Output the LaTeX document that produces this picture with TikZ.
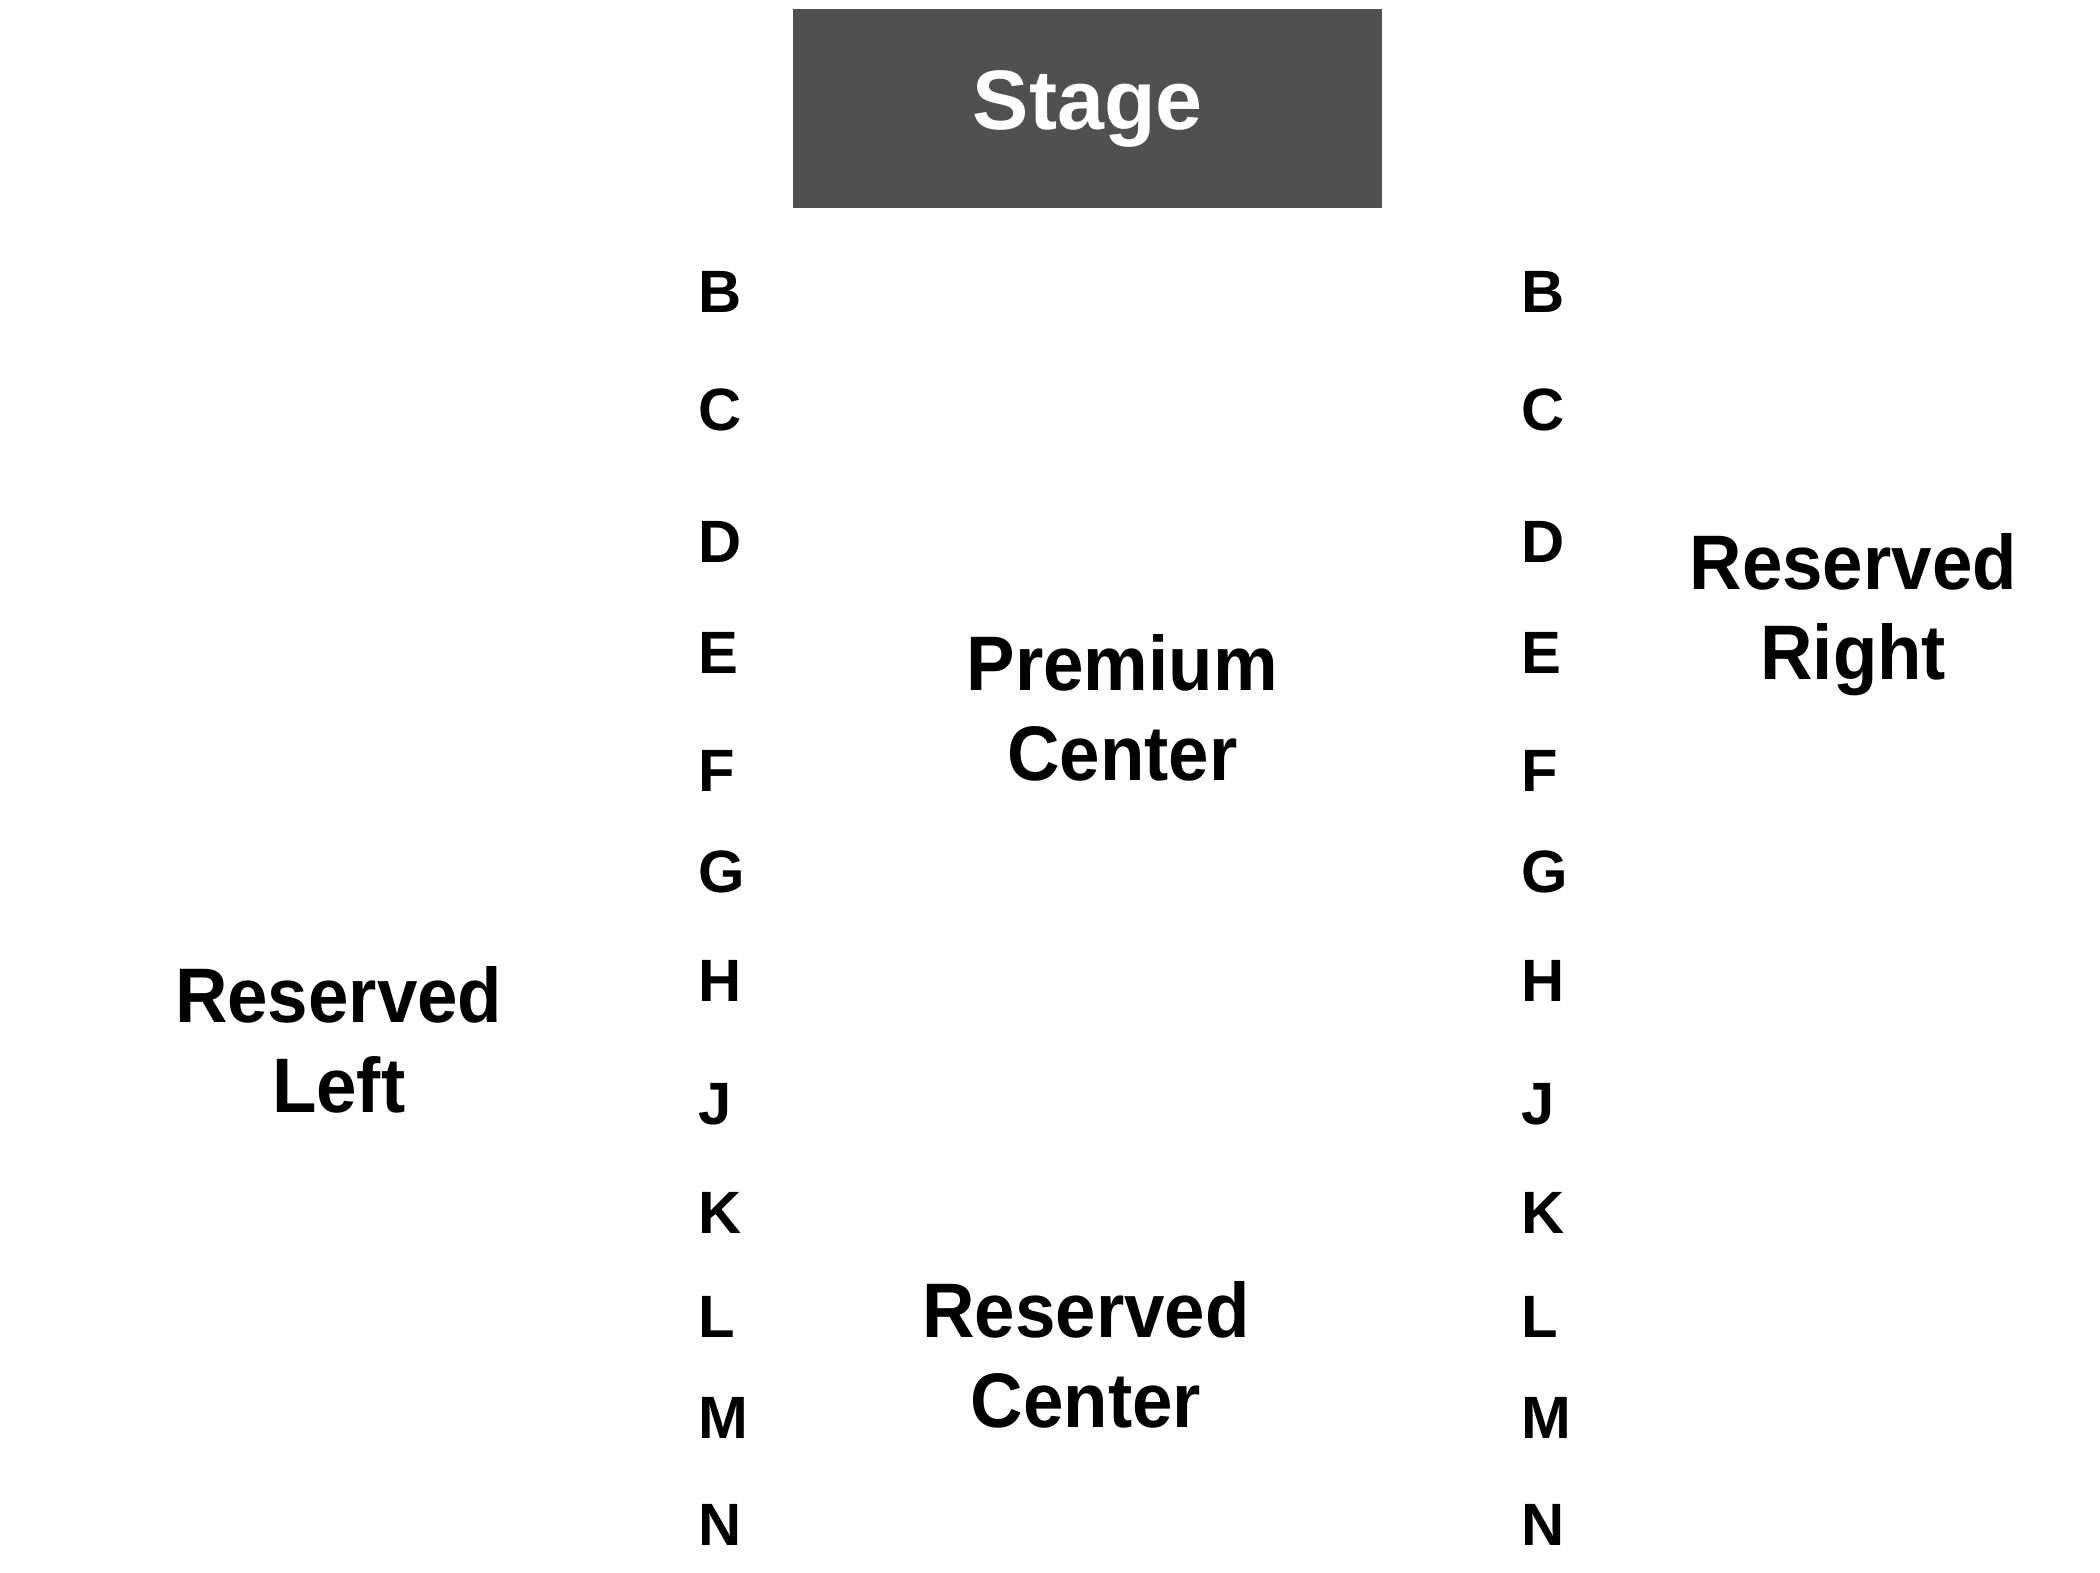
\documentclass[tikz,border=0pt]{standalone}
\usepackage{fontspec}
\setmainfont{Liberation Sans}
\newfontfamily\zonefont{Liberation Sans}[FakeStretch=0.94]
\definecolor{stagegray}{HTML}{505050}
\tikzset{
  stagebox/.style={fill=stagegray,text=white,minimum width=5.883cm,minimum height=1.981cm,font=\fontsize{24}{28}\selectfont\bfseries},
  zone/.style={align=center,font=\zonefont\fontsize{22}{25.6}\selectfont\bfseries},
  row/.style={anchor=west,inner sep=0pt,font=\fontsize{17}{20}\selectfont\bfseries},
}
\begin{document}
\begin{tikzpicture}
\useasboundingbox (0,0) rectangle (21,-15.72);
\node[stagebox] (stage) at (10.876,-1.085) {Stage};
\foreach \r/\y in {B/2.922,C/4.101,D/5.416,E/6.527,F/7.705,G/8.721,H/9.810,J/11.040,K/12.125,L/13.171,M/14.176,N/15.251}
{
\node[row] (left\r) at (6.978,-\y) {\r};
\node[row] (right\r) at (15.21,-\y) {\r};
}
\node[zone] (premium) at (11.223,-7.077) {Premium\\Center};
\node[zone] (resright) at (18.533,-6.151) {Reserved\\Right};
\node[zone] (resleft) at (3.387,-10.40) {Reserved\\Left};
\node[zone] (rescenter) at (10.86,-13.553) {Reserved\\Center};
\end{tikzpicture}
\end{document}
